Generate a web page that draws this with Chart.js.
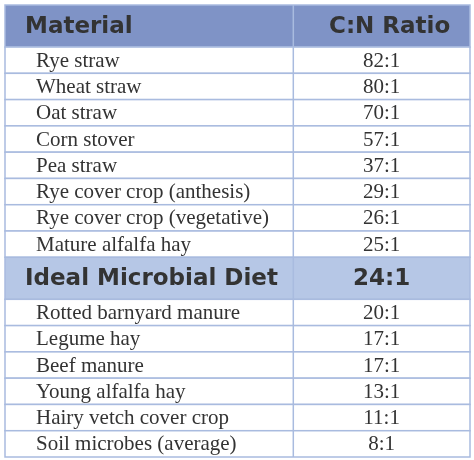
<!DOCTYPE html>
<html><head><meta charset="utf-8">
<script src="https://cdn.jsdelivr.net/npm/chart.js@4"></script>
<style>html,body{margin:0;padding:0;background:#fff}#c{display:block}</style>
</head><body>
<div style="width:474px;height:460px"><canvas id="c"></canvas></div>
<script>
const headers = ["Material", "C:N Ratio"];
const materials = ["Rye straw","Wheat straw","Oat straw","Corn stover","Pea straw","Rye cover crop (anthesis)","Rye cover crop (vegetative)","Mature alfalfa hay","Ideal Microbial Diet","Rotted barnyard manure","Legume hay","Beef manure","Young alfalfa hay","Hairy vetch cover crop","Soil microbes (average)"];
const ratios = ["82:1","80:1","70:1","57:1","37:1","29:1","26:1","25:1","24:1","20:1","17:1","17:1","13:1","11:1","8:1"];
const highlight = ["Ideal Microbial Diet"];

const rows = [{cells:headers, kind:'head'}].concat(materials.map((m,i)=>({cells:[m,ratios[i]], kind: highlight.includes(m)?'hi':'body'})));
const weight = r => r.kind==='body'?1:1.6;
const tops=[]; let acc=0; rows.forEach(r=>{tops.push(acc); acc+=weight(r);});
const total=acc;

function fitText(ctx, text, x, y, w){
  const m = ctx.measureText(text).width;
  ctx.save(); ctx.translate(x,y); ctx.scale(w/m,1); ctx.fillText(text,0,0); ctx.restore();
}

const tablePlugin = {
  id:'table',
  afterDatasetsDraw(chart){
    const {ctx, scales:{x,y}} = chart;
    const colSplit = 0.62;
    ctx.save();
    rows.forEach((r,i)=>{
      const y0=y.getPixelForValue(tops[i]), y1=y.getPixelForValue(tops[i]+weight(r));
      const xl=x.getPixelForValue(0), xr=x.getPixelForValue(1), xm=x.getPixelForValue(colSplit);
      ctx.fillStyle = r.kind==='head' ? '#7f93c6' : r.kind==='hi' ? '#b6c7e6' : '#ffffff';
      ctx.fillRect(xl,y0,xr-xl,y1-y0);
      ctx.strokeStyle='#a9bbdf'; ctx.lineWidth=1.5;
      ctx.strokeRect(xl,y0,xr-xl,y1-y0);
      ctx.beginPath(); ctx.moveTo(xm,y0); ctx.lineTo(xm,y1); ctx.stroke();
      const cy=(y0+y1)/2+1;
      ctx.fillStyle='#333333'; ctx.textBaseline='middle';
      if(r.kind==='body'){
        ctx.font='21px "Liberation Serif", serif';
        ctx.textAlign='left'; ctx.fillText(r.cells[0], xl+31, cy);
        ctx.textAlign='center'; ctx.fillText(r.cells[1], (xm+xr)/2, cy);
      } else {
        ctx.font='bold 23px "DejaVu Sans", sans-serif';
        ctx.textAlign='left'; ctx.fillText(r.cells[0], xl+20, cy);
        ctx.textAlign='center'; ctx.fillText(r.cells[1], (xm+xr)/2+ (r.kind==='head'?8:0), cy);
      }
    });
    ctx.restore();
  }
};

new Chart(document.getElementById('c'), {
  type:'scatter',
  data:{datasets:[{data:rows.map((r,i)=>({x:0.5,y:tops[i]+weight(r)/2})), pointRadius:0}]},
  options:{
    responsive:true, maintainAspectRatio:false, animation:false,
    layout:{padding:{left:5,right:4,top:5,bottom:3}},
    plugins:{legend:{display:false},tooltip:{enabled:false}},
    scales:{
      x:{type:'linear',min:0,max:1,display:false},
      y:{type:'linear',min:0,max:total,reverse:true,display:false}
    }
  },
  plugins:[tablePlugin]
});
</script>
</body></html>
